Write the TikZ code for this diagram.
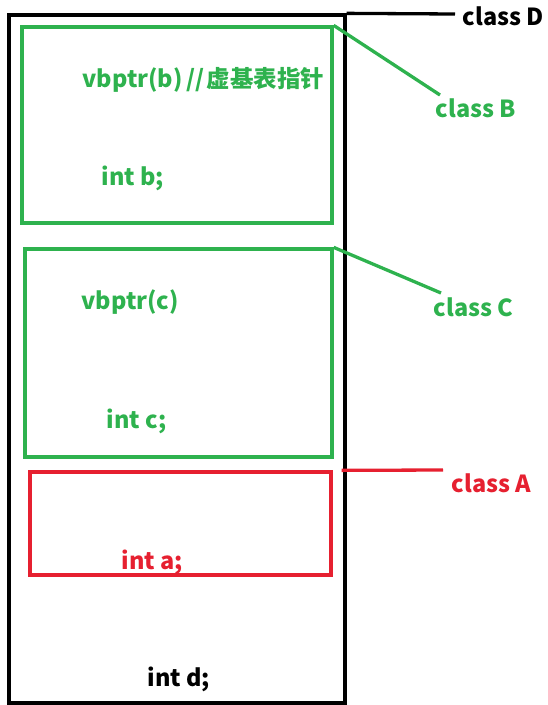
\documentclass[tikz,border=0pt]{standalone}
\usepackage{fontspec}
\setmainfont{Noto Sans CJK SC}
\usetikzlibrary{positioning}
\definecolor{boxgreen}{RGB}{46,178,78}
\definecolor{boxred}{RGB}{230,32,48}
\begin{document}
\begin{tikzpicture}[x=1pt, y=-1pt, line width=3.3pt,
    lbl/.style={font=\fontsize{23.5}{26}\selectfont\bfseries, inner sep=0pt, anchor=west},
    part/.style={draw, rectangle, inner sep=0pt}]
    \useasboundingbox (0,0) rectangle (548,705);

    \node[part, minimum width=336pt, minimum height=688pt] (objD) at (177,359) {};
    \node[part, boxgreen, minimum width=310pt, minimum height=196pt] (objB) at (177,125) {};
    \node[part, boxgreen, minimum width=307pt, minimum height=208pt] (objC) at (178.5,353) {};
    \node[part, boxred, minimum width=301pt, minimum height=103pt] (objA) at (180.5,523.5) {};

    \node[lbl, boxgreen] (ptrB) at (81,80) {vbptr(b)\hspace{4pt}//\hspace{2pt}虚基表指针};
    \node[lbl, boxgreen] (intB) at (100,178) {int b;};
    \node[lbl, boxgreen] (ptrC) at (80,302) {vbptr(c)};
    \node[lbl, boxgreen] (intC) at (105,421) {int c;};
    \node[lbl, boxred] (intA) at (120,562) {int a;};
    \node[lbl] (intD) at (146,679) {int d;};

    \node[lbl] (nameD) at (461,16) {class D};
    \node[lbl, boxgreen] (nameB) at (434,108) {class B};
    \node[lbl, boxgreen] (nameC) at (432,307) {class C};
    \node[lbl, boxred] (nameA) at (450,483) {class A};

    \coordinate (endD) at (455,14);
    \coordinate (endB) at (440,95);
    \coordinate (endC) at (441,293);
    \coordinate (endA) at (443,470);

    \draw (objD.north east) -- (endD);
    \draw[boxgreen] (objB.north east) -- (endB);
    \draw[boxgreen] (objC.north east) -- (endC);
    \draw[boxred] ([xshift=9pt]objA.north east) -- (endA);
\end{tikzpicture}
\end{document}
